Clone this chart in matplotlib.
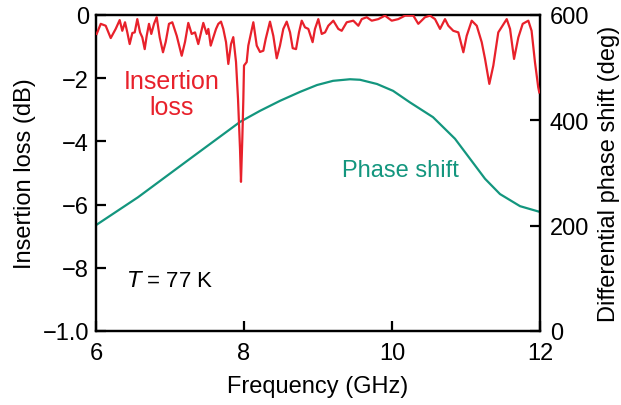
import matplotlib.pyplot as plt

plt.rcParams['font.family'] = ['Liberation Sans', 'DejaVu Sans']

red = '#e8212b'
teal = '#13967e'

# insertion loss trace (GHz, dB)
loss_freq = [6.009, 6.064, 6.131, 6.199, 6.266, 6.320, 6.355, 6.392, 6.423, 6.455,
             6.491, 6.523, 6.558, 6.595, 6.626, 6.658, 6.685, 6.716, 6.747, 6.784,
             6.820, 6.861, 6.905, 6.942, 6.986, 7.031, 7.091, 7.158, 7.203, 7.247,
             7.293, 7.338, 7.382, 7.450, 7.496, 7.518, 7.550, 7.585, 7.622, 7.653,
             7.689, 7.720, 7.757, 7.788, 7.824, 7.855, 7.892, 7.919, 7.946, 7.959,
             7.977, 7.991, 8.000, 8.036, 8.058, 8.126, 8.172, 8.216, 8.261, 8.293,
             8.351, 8.396, 8.442, 8.486, 8.531, 8.577, 8.622, 8.658, 8.703, 8.743,
             8.780, 8.824, 8.869, 8.927, 8.959, 9.004, 9.050, 9.095, 9.139, 9.207,
             9.274, 9.320, 9.388, 9.477, 9.545, 9.591, 9.658, 9.726, 9.815, 9.905,
             9.996, 10.085, 10.176, 10.288, 10.355, 10.446, 10.514, 10.581, 10.649, 10.716,
             10.761, 10.828, 10.896, 10.964, 11.009, 11.077, 11.145, 11.212, 11.257, 11.315,
             11.369, 11.436, 11.550, 11.595, 11.649, 11.707, 11.766, 11.842, 11.886, 11.932,
             11.976, 11.990]
loss_db = [-0.60, -0.28, -0.34, -0.73, -0.44, -0.16, -0.50, -0.23, -0.55, -0.92,
           -0.57, -0.55, -0.13, -0.55, -0.71, -1.08, -0.66, -0.28, -0.60, -0.28,
           -0.07, -0.71, -1.18, -0.85, -0.28, -0.23, -0.66, -1.29, -0.85, -0.25,
           -0.60, -0.55, -0.92, -0.25, -0.60, -0.44, -0.97, -0.71, -0.44, -0.28,
           -0.21, -0.44, -0.86, -1.55, -0.92, -0.70, -1.49, -2.66, -4.24, -5.28,
           -3.92, -2.66, -1.60, -1.49, -0.97, -0.23, -0.97, -1.17, -1.13, -0.76,
           -0.21, -0.66, -1.37, -0.97, -0.44, -0.21, -0.55, -1.05, -1.08, -0.55,
           -0.18, -0.39, -0.44, -0.86, -0.44, -0.13, -0.60, -0.55, -0.34, -0.18,
           -0.44, -0.50, -0.23, -0.18, -0.34, -0.13, -0.07, -0.18, -0.13, -0.02,
           -0.18, -0.13, -0.02, -0.02, -0.28, -0.07, -0.02, -0.13, -0.44, -0.13,
           -0.34, -0.50, -0.55, -1.18, -0.66, -0.18, -0.34, -0.86, -1.39, -2.18,
           -1.60, -0.55, -0.13, -0.44, -1.39, -0.71, -0.28, -0.18, -0.50, -1.50,
           -2.29, -2.45]

# differential phase shift trace (GHz, deg)
phase_freq = [6.000, 6.568, 7.270, 7.946, 8.216, 8.486, 8.757, 8.986, 9.203, 9.432,
              9.568, 9.797, 10.014, 10.243, 10.554, 10.851, 11.054, 11.257, 11.459, 11.730,
              12.000]
phase_deg = [201, 254, 327, 397, 418, 437, 454, 467, 475, 478,
             477, 469, 456, 434, 406, 365, 327, 289, 260, 237,
             226]

x_ticks = [6, 8, 10, 12]
loss_ticks = [0, -2, -4, -6, -8, -10]
loss_labels = ['0', '\u22122', '\u22124', '\u22126', '\u22128', '\u22121.0']
phase_ticks = [0, 200, 400, 600]

fs = 17

fig = plt.figure(figsize=(6.21, 4.06), dpi=100)
ax = fig.add_axes([0.1546, 0.1823, 0.715, 0.7783])
ax2 = ax.twinx()

ax.plot(loss_freq, loss_db, color=red, lw=1.6, solid_joinstyle='round', zorder=3)
ax2.plot(phase_freq, phase_deg, color=teal, lw=1.6, solid_joinstyle='round')
ax.set_zorder(ax2.get_zorder() + 1)
ax.patch.set_visible(False)

ax.set_xlim(6, 12)
ax.set_ylim(-10, 0)
ax2.set_ylim(0, 600)
ax.set_xticks(x_ticks)
ax.set_yticks(loss_ticks)
ax.set_yticklabels(loss_labels)
ax2.set_yticks(phase_ticks)

for a in (ax, ax2):
    for s in a.spines.values():
        s.set_linewidth(1.6)
    a.tick_params(direction='in', length=7, width=1.6, labelsize=fs)
ax.tick_params(axis='x', pad=8)
ax.tick_params(axis='y', pad=5)
ax2.tick_params(axis='y', pad=7)

ax.set_xlabel('Frequency (GHz)', fontsize=fs, labelpad=8)
ax.set_ylabel('Insertion loss (dB)', fontsize=fs, labelpad=5)
ax2.set_ylabel('Differential phase shift (deg)', fontsize=fs, labelpad=6)

ax.text(7.02, -2.5, 'Insertion\nloss', color=red, fontsize=fs + 1, ha='center',
        va='center', linespacing=1.15)
ax.text(10.12, -4.9, 'Phase shift', color=teal, fontsize=fs, ha='center', va='center')
ax.text(6.42, -8.4, '$T$ = 77 K', fontsize=fs - 1, ha='left', va='center')

fig.savefig('out.png', dpi=100)
